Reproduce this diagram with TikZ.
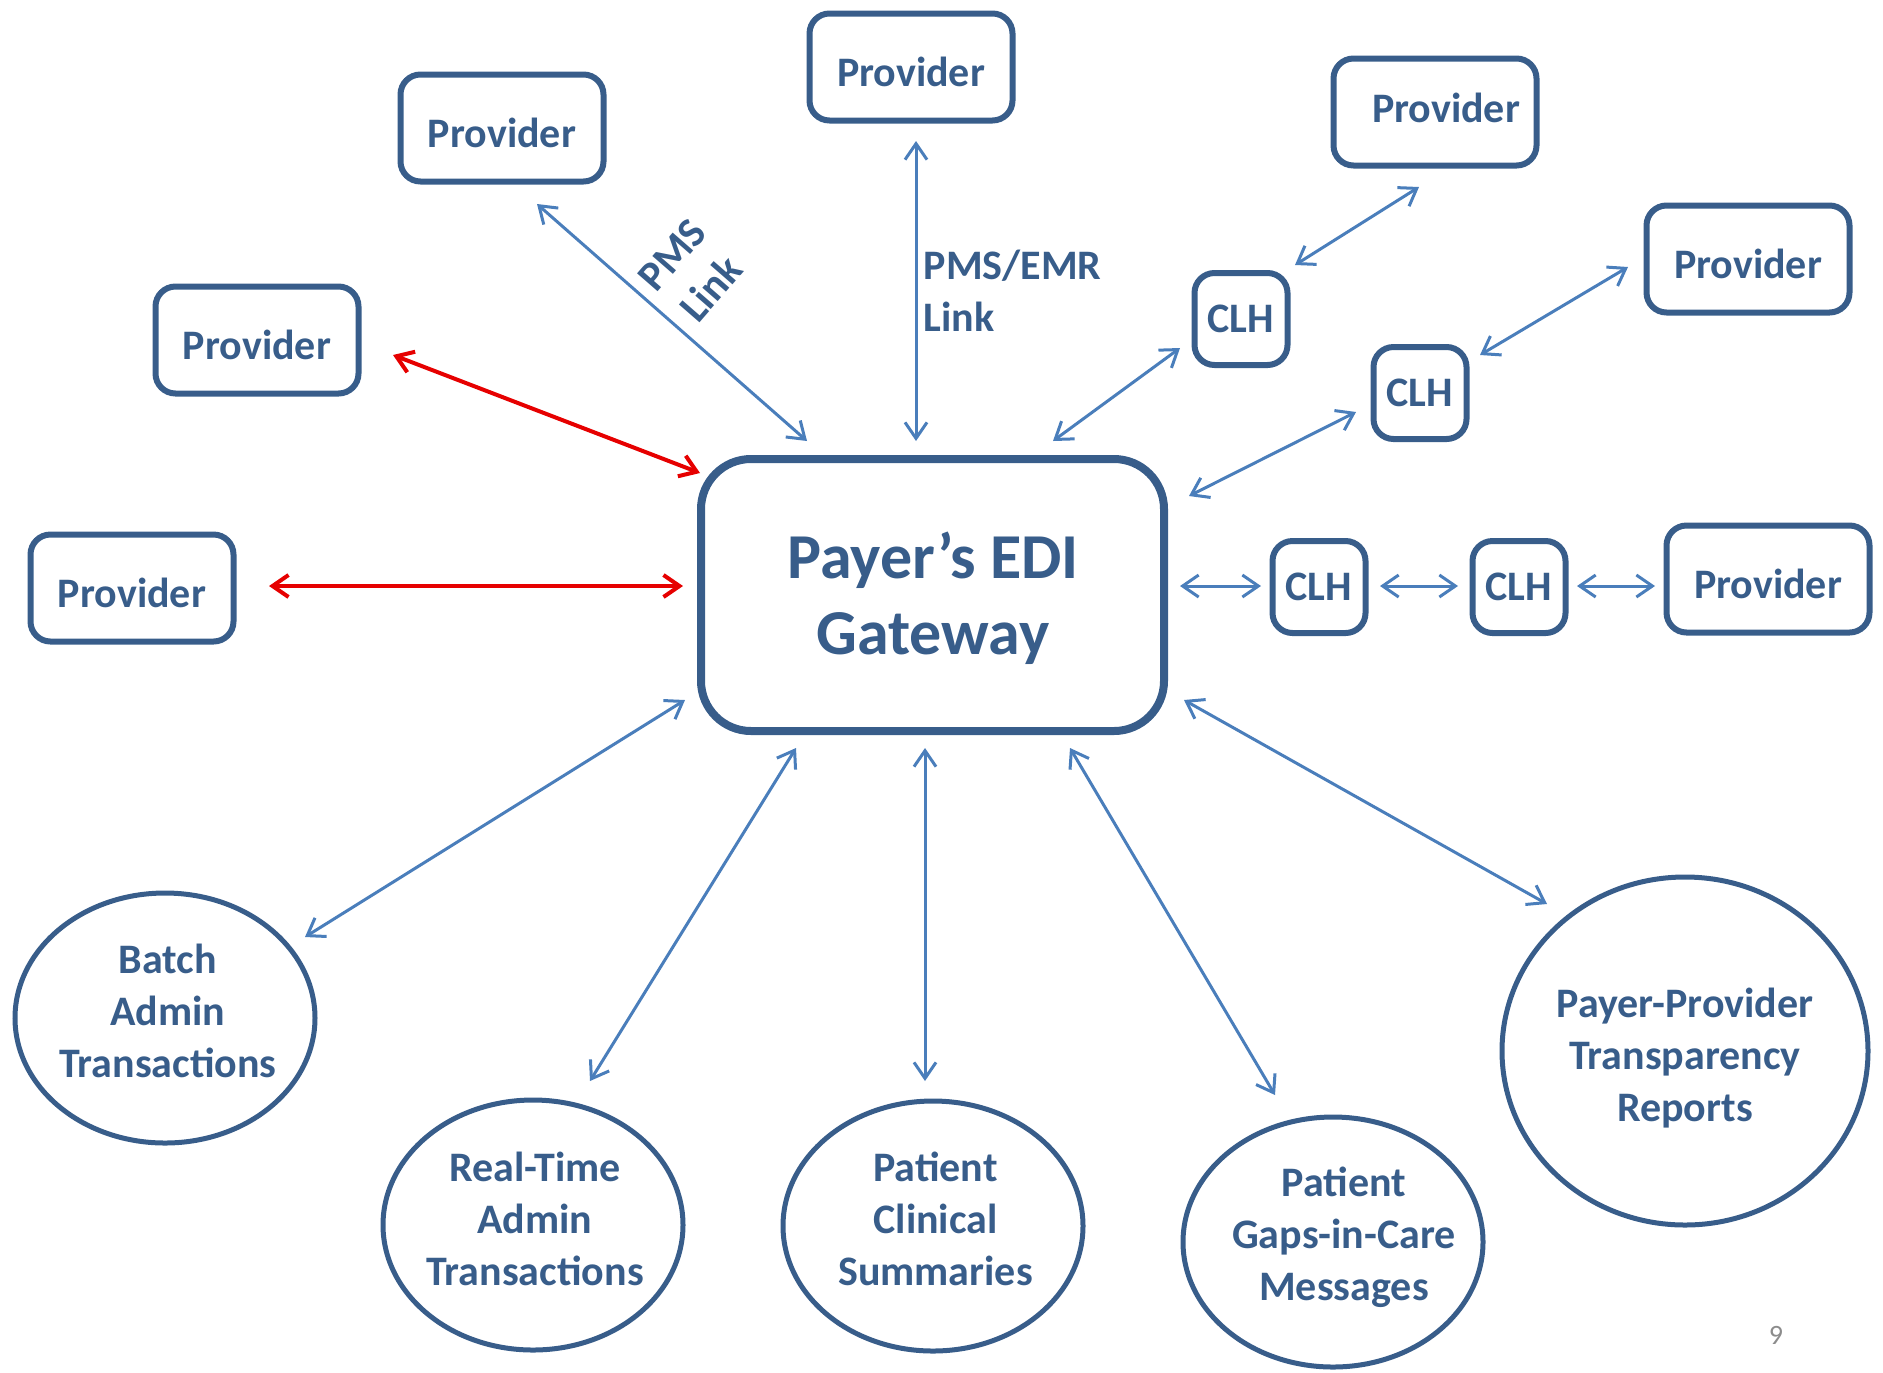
\documentclass[tikz,border=0pt]{standalone}
\usepackage{fontspec}
\setmainfont{Carlito}
\usetikzlibrary{arrows.meta,calc,shapes.geometric}
\definecolor{boxblue}{HTML}{385D8A}
\definecolor{arrblue}{HTML}{4A7EBB}
\definecolor{arrred}{HTML}{E60000}
\begin{document}
\begin{tikzpicture}[x=0.5pt,y=-0.5pt,every node/.style={outer sep=0pt},
  txt/.style={text=boxblue,font=\fontsize{21}{26}\selectfont\bfseries,align=center},
  prov/.style={txt,draw=boxblue,line width=3pt,rounded corners=10pt,
    minimum width=101.5pt,minimum height=53.5pt,inner sep=0pt,
    text height=19.5pt,text depth=0pt},
  clh/.style={txt,draw=boxblue,line width=3pt,rounded corners=10pt,
    minimum width=46.5pt,minimum height=46pt,inner sep=0pt},
  oval/.style={draw=boxblue,line width=2.5pt,ellipse,
    minimum width=150pt,minimum height=125pt,inner sep=0pt},
  gate/.style={draw=boxblue,line width=4pt,rounded corners=25pt,
    minimum width=231.5pt,minimum height=136pt,inner sep=0pt},
  gtxt/.style={text=boxblue,font=\fontsize{32}{38}\selectfont\bfseries,align=center},
  arr/.style={draw=arrblue,line width=1.5pt,
    {Straight Barb[length=8pt,width=11pt]}-{Straight Barb[length=8pt,width=11pt]}},
  redarr/.style={draw=arrred,line width=2pt,
    {Straight Barb[length=8pt,width=11pt]}-{Straight Barb[length=8pt,width=11pt]}}]
\useasboundingbox (0,0) rectangle (1883,1372);

% central gateway
\node[gate] (gw) at (932.5,595) {};
\node[gtxt] (gwt) at (933,598) {Payer’s EDI\\Gateway};

% providers
\node[prov] (p1) at (502,128) {Provider};
\node[prov] (p2) at (911,67) {Provider};
\node[prov] (p3) at (1435,112) {};
\node[txt] (p3t) at (1446,108) {Provider};
\node[prov] (p4) at (1748,259) {Provider};
\node[prov] (p5) at (257,340) {Provider};
\node[prov] (p6) at (132,588) {Provider};
\node[prov] (p7) at (1768,579) {Provider};

% clearinghouses
\node[clh] (c1) at (1241,319) {CLH};
\node[clh] (c2) at (1420,393) {CLH};
\node[clh] (c3) at (1319,587) {CLH};
\node[clh] (c4) at (1519,587) {CLH};

% services
\node[oval] (e1) at (165,1018) {};
\node[oval] (e2) at (533,1225) {};
\node[oval] (e3) at (933,1226) {};
\node[oval] (e4) at (1333,1242) {};
\node[oval,minimum width=183pt,minimum height=174pt] (e5) at (1685,1051) {};
\node[txt] (e1t) at (168,1011) {Batch\\Admin\\Transactions};
\node[txt] (e2t) at (535,1219) {Real-Time\\Admin\\Transactions};
\node[txt] (e3t) at (935.5,1219) {Patient\\Clinical\\Summaries};
\node[txt] (e4t) at (1344,1237) {Patient\\Gaps-in-Care\\Messages};
\node[txt] (e5t) at (1685,1058) {Payer-Provider\\Transparency\\Reports};

% direct provider links (red)
\draw[redarr] ($(p5.east)+(34.5,15)$) -- ($(gw.north west)+(-1,14)$);
\draw[redarr] ($(p6.east)+(35.5,-2)$) -- ($(gw.west)+(-18,-9)$);

% upper links
\draw[arr] ($(p1.south)+(35,22.5)$) -- ($(gw.north)+(-125.5,-18)$);
\draw[arr] ($(p2.south)+(5,20.5)$) -- ($(gw.north)+(-16.5,-18)$);
\draw[arr] ($(gw.north)+(120.5,-18)$) -- ($(c1.south west)+(-14.5,-17)$);
\draw[arr] ($(c1.north east)+(7.5,-8)$) -- ($(p3.south)+(-16,21.5)$);
\draw[arr] ($(gw.north east)+(25,37)$) -- ($(c2.south west)+(-17.5,-27)$);
\draw[arr] ($(c2.north east)+(13.5,8)$) -- ($(p4.west)+(-18.5,8)$);

% right-hand chain
\draw[arr] ($(gw.east)+(16,-9)$) -- ($(c3.west)+(-11.5,-1)$);
\draw[arr] ($(c3.east)+(14.5,-1)$) -- ($(c4.west)+(-14.5,-1)$);
\draw[arr] ($(c4.east)+(11.5,-1)$) -- ($(p7.west)+(-11.5,7)$);

% lower links
\draw[arr] ($(e1)+(140,-81)$) -- ($(gw.south west)+(-16,-31)$);
\draw[arr] ($(e2)+(57,-144)$) -- ($(gw.south)+(-136.5,17)$);
\draw[arr] ($(gw.south)+(-7.5,17)$) -- ($(e3.north)+(-8,-20)$);
\draw[arr] ($(gw.south)+(137.5,17)$) -- ($(e4)+(-58,-147)$);
\draw[arr] ($(gw.south east)+(20,-31)$) -- ($(e5)+(-138,-147)$);

% link labels
\node[txt,rotate=49] (lpms) at (691.5,272) {PMS\\Link};
\node[txt,align=left,anchor=west] (lemr) at (917,291) {PMS/EMR\\Link};

% page number
\node[text=black!45,font=\fontsize{14}{16}\selectfont] (pg) at (1776,1335) {9};
\end{tikzpicture}
\end{document}
